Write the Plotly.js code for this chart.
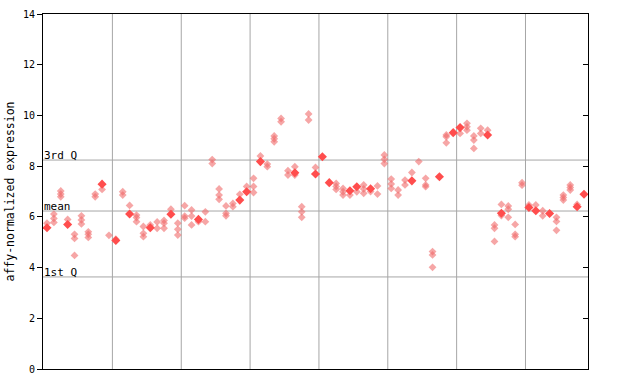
<!DOCTYPE html>
<html><head><meta charset="utf-8">
<script src="https://cdn.plot.ly/plotly-3.0.1.min.js"></script>
<style>html,body{margin:0;padding:0;background:#fff}#chart{width:640px;height:384px}</style>
</head><body><div id="chart"></div>
<script>
// replicate values per sample (light diamonds)
const replicateValues = [
 [5.75],[6.11,5.94,5.78],[7.02,6.9,6.79],[5.9],[5.31,5.15,4.48],[6.04,5.88,5.72],[5.41,5.31,5.19],[6.9,6.79],[7.08],[5.27],
 [5.12],[6.99,6.86],[6.45],[6.07,5.97,5.81],[5.62,5.35,5.22],[5.68],[5.8,5.55],[5.86,5.75,5.55],[6.3],[5.75,5.51,5.28],
 [6.44,6.03,5.95],[6.27,6.03,5.68],[5.81],[6.2,5.81],[8.26,8.1],[7.1,6.86,6.69],[6.43,6.14,6.04],[6.53,6.4],[6.89],[7.2],
 [7.52,7.2,6.96],[8.4],[8.08,7.98],[9.19,9.08,8.96],[9.88,9.75],[7.82,7.65],[7.98,7.65],[6.4,6.2,5.98],[10.06,9.82],[7.95],
 [],[],[7.32,7.2,7.08],[7.12,6.99,6.86],[6.86],[6.99],[7.26,7.1,6.93],[7.0],[7.22,6.9],[8.44,8.27,8.1],
 [7.49,7.3,7.12],[7.06,6.86],[7.45,7.26],[7.75],[8.18],[7.52,7.26,7.19],[4.63,4.5,4.01],[],[9.23,9.16,8.92],[],
 [9.29],[9.69,9.55,9.42],[9.19,9.03,8.7],[9.49,9.29],[9.42],[5.68,5.55,5.03],[6.49,6.05],[6.43,6.3,5.98],[5.7,5.31,5.22],[7.35,7.25],
 [6.47],[6.47],[6.24,6.04],[],[5.98,5.82,5.47],[6.86,6.76,6.66],[7.26,7.16,7.06],[6.49],[]
];
// highlighted value per sample (solid diamonds), null where absent
const highlightValues = [
 5.57,null,null,5.7,null,null,null,null,7.29,null,
 5.07,null,6.11,null,null,5.57,null,null,6.1,null,
 null,null,5.9,null,null,null,null,null,6.66,6.99,
 null,8.18,null,null,null,null,7.74,null,null,7.69,
 8.37,7.35,null,null,7.03,7.19,null,7.11,null,null,
 null,null,null,7.42,null,null,null,7.58,null,9.32,
 9.52,null,null,null,9.23,null,6.14,null,null,null,
 6.37,6.24,null,6.13,null,null,null,6.4,6.89
];
const quartileLabels = ["3rd Q","mean","1st Q"];
const quartileValues = [8.24, 6.23, 3.63];
const groupBoundaries = [9.5,19.5,29.5,39.5,49.5,59.5,69.5];
const yTicks = [0,2,4,6,8,10,12,14];

const rx=[], ry=[];
replicateValues.forEach((vals,i)=>vals.forEach(v=>{rx.push(i);ry.push(v);}));
const hx=[], hy=[];
highlightValues.forEach((v,i)=>{ if(v!==null){hx.push(i);hy.push(v);} });

const red='#ff4d4d';
const traces=[
 {x:rx,y:ry,type:'scatter',mode:'markers',marker:{symbol:'diamond',size:6,color:'#f06a6a',opacity:0.6},hoverinfo:'skip',showlegend:false},
 {x:hx,y:hy,type:'scatter',mode:'markers',marker:{symbol:'diamond',size:7,color:red},hoverinfo:'skip',showlegend:false},
 {x:[0],y:[0],yaxis:'y2',type:'scatter',mode:'markers',marker:{opacity:0},hoverinfo:'skip',showlegend:false}
];
const shapes=[];
groupBoundaries.forEach(b=>shapes.push({type:'line',xref:'x',yref:'paper',x0:b,x1:b,y0:0,y1:1,line:{color:'#a6a6a6',width:1},layer:'below'}));
quartileValues.forEach(q=>shapes.push({type:'line',xref:'paper',yref:'y',x0:0,x1:1,y0:q,y1:q,line:{color:'#a6a6a6',width:1},layer:'below'}));
const annotations=quartileLabels.map((t,i)=>({text:t,xref:'paper',yref:'y',x:0,y:quartileValues[i],xanchor:'left',yanchor:'bottom',showarrow:false,font:{family:'DejaVu Sans Mono, monospace',size:11,color:'#000'},xshift:-1,yshift:-4}));
const mono={family:'DejaVu Sans Mono, monospace',size:10,color:'#000'};
const layout={
 width:640,height:384,margin:{l:43,r:52,t:14,b:15},
 paper_bgcolor:'#fff',plot_bgcolor:'#fff',
 xaxis:{range:[-0.58,78.58],showgrid:false,zeroline:false,showticklabels:false,ticks:'',showline:true,linecolor:'#000',linewidth:1,mirror:true},
 yaxis:{range:[0,14],tickvals:yTicks,ticktext:yTicks.map(String),ticks:'outside',ticklen:5,tickcolor:'#000',showgrid:false,zeroline:false,showline:true,linecolor:'#000',linewidth:1,tickfont:mono,
   title:{text:'affy-normalized expression',font:{family:'DejaVu Sans Mono, monospace',size:11.5,color:'#000'},standoff:5}},
 yaxis2:{range:[0,14],overlaying:'y',side:'right',tickvals:yTicks,ticks:'inside',ticklen:5,tickcolor:'#000',showticklabels:false,showgrid:false,zeroline:false,showline:true,linecolor:'#000'},
 shapes:shapes,annotations:annotations,showlegend:false
};
Plotly.newPlot('chart',traces,layout,{staticPlot:true,displayModeBar:false});
</script></body></html>
